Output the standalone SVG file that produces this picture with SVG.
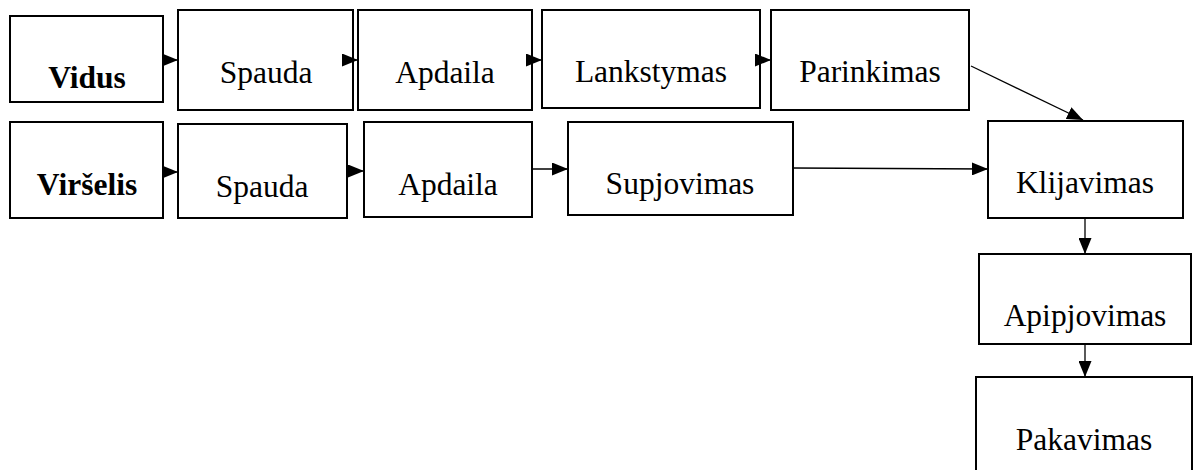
<svg xmlns="http://www.w3.org/2000/svg" width="1194" height="470" viewBox="0 0 1194 470">
<style>
.box{fill:#fff;stroke:#000;stroke-width:2}
.t{font-family:'Liberation Serif','Times New Roman','DejaVu Serif',serif;font-size:31.5px;fill:#000;text-anchor:middle}
.b{font-weight:bold}
.c{stroke:#000;stroke-width:1.3;fill:none;marker-end:url(#ah)}
</style>
<defs>
<marker id="ah" markerUnits="userSpaceOnUse" markerWidth="16" markerHeight="13" refX="16" refY="6.5" orient="auto">
<path d="M0,0 L16,6.5 L0,13 Z" fill="#000"/>
</marker>
</defs>
<rect width="1194" height="470" fill="#fff"/>
<g id="vidus"><rect class="box" x="10" y="16" width="153" height="86"/><text class="t b" x="87" y="88">Vidus</text></g>
<g id="spauda1"><rect class="box" x="178" y="10" width="175" height="100"/><text class="t" x="266" y="83">Spauda</text></g>
<g id="apdaila1"><rect class="box" x="358" y="10" width="174" height="100"/><text class="t" x="445" y="83">Apdaila</text></g>
<g id="lankstymas"><rect class="box" x="542" y="10" width="218" height="98"/><text class="t" x="651" y="82">Lankstymas</text></g>
<g id="parinkimas"><rect class="box" x="771" y="10" width="198" height="100"/><text class="t" x="870" y="82">Parinkimas</text></g>
<g id="virselis"><rect class="box" x="10" y="122" width="153" height="96"/><text class="t b" x="87" y="195">Viršelis</text></g>
<g id="spauda2"><rect class="box" x="178" y="124" width="169" height="94"/><text class="t" x="262" y="197">Spauda</text></g>
<g id="apdaila2"><rect class="box" x="364" y="122" width="168" height="95"/><text class="t" x="448" y="195">Apdaila</text></g>
<g id="supjovimas"><rect class="box" x="568" y="122" width="225" height="93"/><text class="t" x="680" y="194">Supjovimas</text></g>
<g id="klijavimas"><rect class="box" x="988" y="121" width="195" height="97"/><text class="t" x="1085" y="193">Klijavimas</text></g>
<g id="apipjovimas"><rect class="box" x="979" y="254" width="212" height="90"/><text class="t" x="1085" y="326">Apipjovimas</text></g>
<g id="pakavimas"><rect class="box" x="976" y="377" width="216" height="100"/><text class="t" x="1084" y="450">Pakavimas</text></g>
<g id="connectors">
<line class="c" x1="162" y1="60" x2="178" y2="60"/>
<line class="c" x1="342" y1="60" x2="358" y2="60"/>
<line class="c" x1="526" y1="60" x2="542" y2="60"/>
<line class="c" x1="755" y1="60" x2="771" y2="60"/>
<line class="c" x1="971" y1="66" x2="1083" y2="120"/>
<line class="c" x1="162" y1="172" x2="178" y2="172"/>
<line class="c" x1="347" y1="171" x2="364" y2="171"/>
<line class="c" x1="532" y1="169" x2="568" y2="169"/>
<line class="c" x1="793" y1="168" x2="988" y2="169"/>
<line class="c" x1="1085" y1="218" x2="1085" y2="254"/>
<line class="c" x1="1085" y1="344" x2="1085" y2="377"/>
</g>
</svg>
